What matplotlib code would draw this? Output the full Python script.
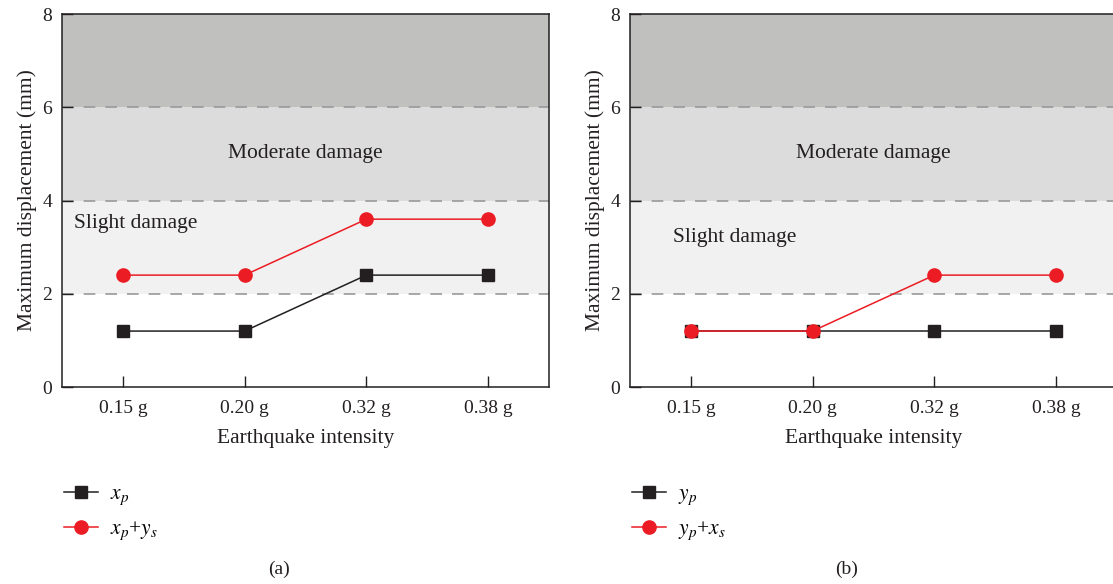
import matplotlib
matplotlib.use("Agg")
import matplotlib.pyplot as plt
from matplotlib.lines import Line2D

plt.rcParams["font.family"] = ["Liberation Serif", "DejaVu Serif"]
plt.rcParams["mathtext.fontset"] = "stix"

# categories and series values
intensity = ["0.15 g", "0.20 g", "0.32 g", "0.38 g"]
xp = [1.2, 1.2, 2.4, 2.4]
xp_ys = [2.4, 2.4, 3.6, 3.6]
yp = [1.2, 1.2, 1.2, 1.2]
yp_xs = [1.2, 1.2, 2.4, 2.4]

# damage bands (lower, upper)
band_limits = [(2, 4), (4, 6), (6, 8)]
band_colors = ["#f0f1f0", "#dcdcdc", "#c0c0bf"]
dash_levels = [2, 4, 6]

BLACK = "#231f20"
RED = "#ec1c24"
FS_TICK = 14
FS_LAB = 15.5

fig = plt.figure(figsize=(11.13, 5.84), dpi=100)
ax_a = fig.add_axes([0.0557, 0.3373, 0.4376, 0.6387])
ax_b = fig.add_axes([0.5660, 0.3373, 0.4376, 0.6387])


def draw_panel(ax, s1, s2, lab1, lab2, slight_xy, tag):
    xs = range(len(intensity))
    for (lo, hi), c in zip(band_limits, band_colors):
        ax.axhspan(lo, hi, color=c, lw=0, zorder=0)
    for lv in dash_levels:
        ax.axhline(lv, color="#999999", lw=1.2, ls=(0, (7, 6)), zorder=1)

    ax.plot(xs, s1, color=BLACK, lw=1.1, marker="s", ms=8.5, mfc=BLACK,
            mec=BLACK, zorder=3)
    ax.plot(xs, s2, color=RED, lw=1.1, marker="o", ms=9.5, mfc=RED,
            mec=RED, zorder=4)

    ax.text(1.5, 5.0, "Moderate damage", ha="center", va="center",
            fontsize=FS_LAB, color=BLACK)
    ax.text(slight_xy[0], slight_xy[1], "Slight damage", ha="left",
            va="center", fontsize=FS_LAB, color=BLACK)

    ax.set_xlim(-0.5, 3.5)
    ax.set_ylim(0, 8)
    ax.set_xticks(list(xs))
    ax.set_xticklabels(intensity)
    ax.set_yticks([0, 2, 4, 6, 8])
    ax.tick_params(direction="in", labelsize=FS_TICK, length=8, width=1,
                   color=BLACK, labelcolor=BLACK)
    ax.tick_params(axis="x", pad=9)
    ax.tick_params(axis="y", pad=7)
    ax.set_xlabel("Earthquake intensity", fontsize=FS_LAB, labelpad=9,
                  color=BLACK)
    ax.set_ylabel("Maximum displacement (mm)", fontsize=FS_LAB, labelpad=4,
                  color=BLACK)
    for sp in ax.spines.values():
        sp.set_color(BLACK)
        sp.set_linewidth(1.1)

    handles = [
        Line2D([], [], color=BLACK, lw=1.1, marker="s", ms=8.5, mfc=BLACK, mec=BLACK),
        Line2D([], [], color=RED, lw=1.1, marker="o", ms=9.5, mfc=RED, mec=RED),
    ]
    ax.legend(handles, [lab1, lab2], loc="upper left",
              bbox_to_anchor=(-0.036, -0.209), frameon=False, fontsize=FS_LAB,
              handlelength=1.6, labelspacing=0.55, handletextpad=0.55)
    ax.text(0.445, -0.49, tag, transform=ax.transAxes, ha="center",
            va="center", fontsize=FS_TICK, color=BLACK)


draw_panel(ax_a, xp, xp_ys, r"$x_p$", r"$x_p$+$y_s$", (-0.4, 3.5), "(a)")
draw_panel(ax_b, yp, yp_xs, r"$y_p$", r"$y_p$+$x_s$", (-0.15, 3.2), "(b)")

fig.savefig("out.png", dpi=100)
